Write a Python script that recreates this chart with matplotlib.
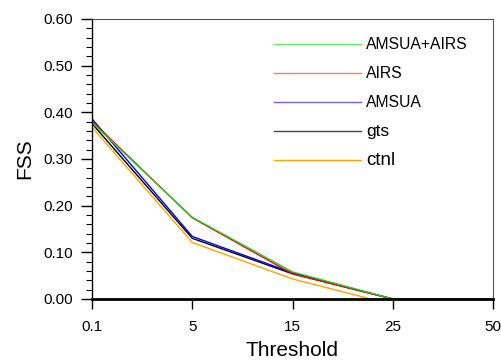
import matplotlib
matplotlib.use("Agg")
import matplotlib.pyplot as plt
from matplotlib.ticker import MultipleLocator

plt.rcParams['font.family'] = ['Liberation Sans', 'DejaVu Sans']

thresholds = ["0.1", "5", "15", "25", "50"]
names = ["AMSUA+AIRS", "AIRS", "AMSUA", "gts", "ctnl"]
fss_amsua_airs = [0.378, 0.175, 0.058, 0.0, 0.0]
fss_airs = [0.381, 0.174, 0.054, 0.0, 0.0]
fss_amsua = [0.386, 0.134, 0.056, 0.0, 0.0]
fss_gts = [0.376, 0.130, 0.054, 0.0, 0.0]
fss_ctnl = [0.368, 0.121, 0.043, -0.012, -0.012]

colors = ["#22cc22", "#ff0000", "#0000ff", "#000000", "#ffa500"]
leg_colors = ["#66ee66", "#ff7777", "#6666ff", "#444444", "#ffa500"]
leg_sizes = [11.3, 11.3, 11.3, 12.5, 13.5]

fig = plt.figure(figsize=(5.01, 3.62), dpi=100)
ax = fig.add_axes([92 / 501, 1 - 299 / 362, 401 / 501, 280 / 362])

x = list(range(len(thresholds)))
series = [fss_amsua_airs, fss_airs, fss_amsua, fss_gts, fss_ctnl]
# draw in reverse so green ends up on top
for vals, c in list(zip(series, colors))[::-1]:
    ax.plot(x, vals, color=c, lw=1.0, clip_on=True)

ax.set_xlim(0, 4)
ax.set_ylim(0, 0.6)
ax.set_xticks(x)
ax.set_xticklabels(thresholds)
ax.yaxis.set_major_locator(MultipleLocator(0.1))
ax.yaxis.set_minor_locator(MultipleLocator(0.02))
ax.yaxis.set_major_formatter(plt.FormatStrFormatter("%.2f"))
ax.tick_params(axis='y', which='major', direction='out', length=8, width=1, labelsize=11, pad=6)
ax.tick_params(axis='y', which='minor', direction='out', length=4, width=0.8)
ax.tick_params(axis='x', direction='out', length=7, width=1, labelsize=11, pad=8)
ax.spines['top'].set_color('#555555')
ax.spines['right'].set_color('#555555')
ax.spines['bottom'].set_linewidth(2)
ax.spines['left'].set_linewidth(1)

ax.set_xlabel("Threshold", fontsize=15, labelpad=5)
ax.set_ylabel("FSS", fontsize=15, labelpad=6)

# NCL style legend
for i, (name, c, s) in enumerate(zip(names, leg_colors, leg_sizes)):
    yy = 0.91 - i * 0.1035
    ax.plot([0.455, 0.672], [yy, yy], color=c, lw=1.0, transform=ax.transAxes)
    ax.text(0.683, yy, name, fontsize=s, va='center', ha='left', transform=ax.transAxes)

fig.savefig("out.png", dpi=100)
